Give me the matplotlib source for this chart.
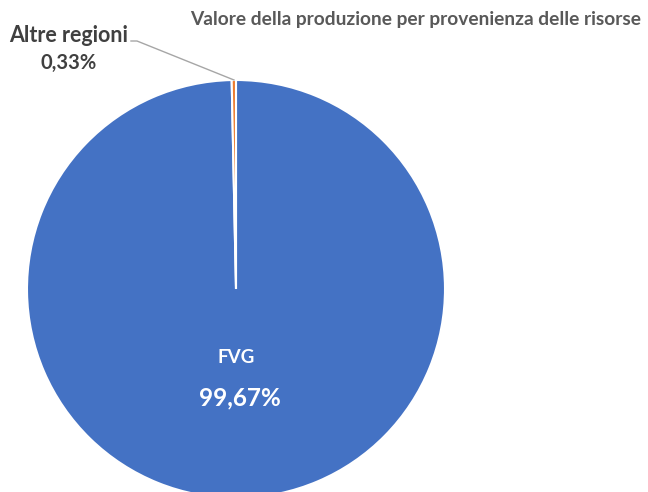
import matplotlib
matplotlib.use("Agg")
import matplotlib.pyplot as plt
from matplotlib.lines import Line2D

categories = ["FVG", "Altre regioni"]
values = [99.67, 0.33]
pct_labels = ["99,67%", "0,33%"]
colors = ["#4472C4", "#ED7D31"]
title = "Valore della produzione per provenienza delle risorse"

W, H = 648, 492
fig = plt.figure(figsize=(W / 100, H / 100), dpi=100)
fig.patch.set_facecolor("white")

cx, cy, r = 236, 289, 209
ax = fig.add_axes([(cx - r) / W, (H - cy - r) / H, 2 * r / W, 2 * r / H])
ax.pie(values, colors=colors, startangle=90, counterclock=False, radius=1,
       wedgeprops=dict(edgecolor="white", linewidth=1.5))
ax.set_xlim(-1, 1)
ax.set_ylim(-1, 1)
ax.set_aspect("equal")
ax.axis("off")

font = "Lato"
ax.text(0, -0.33, categories[0], color="white", fontsize=13.5, fontweight="bold",
        ha="center", va="center", family=font)
ax.text(0.02, -0.52, pct_labels[0], color="white", fontsize=17.5, fontweight="bold",
        ha="center", va="center", family=font)

fig.text(69 / W, 1 - 35 / H, categories[1], color="#404040", fontsize=15.5,
         fontweight="bold", ha="center", va="center", family=font)
fig.text(69 / W, 1 - 63 / H, pct_labels[1], color="#404040", fontsize=14.5,
         fontweight="bold", ha="center", va="center", family=font)

xs = [131 / W, 137 / W, 234 / W]
ys = [1 - 41 / H, 1 - 41 / H, 1 - 80 / H]
fig.add_artist(Line2D(xs, ys, color="#A6A6A6", linewidth=1, transform=fig.transFigure))

fig.text(416 / W, 1 - 20 / H, title, color="#595959", fontsize=13.8,
         fontweight="bold", ha="center", va="center", family=font)

fig.savefig("out.png", dpi=100)
